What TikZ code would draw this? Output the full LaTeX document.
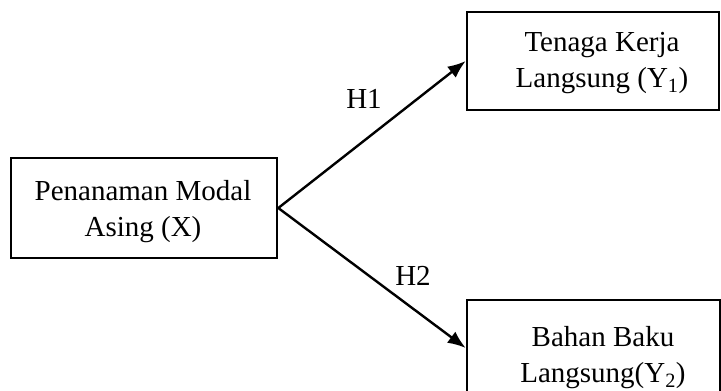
\documentclass[tikz,border=0pt]{standalone}
\usepackage{fontspec}
\setmainfont{Liberation Serif}
\usetikzlibrary{arrows.meta}
\begin{document}
\begin{tikzpicture}[x=1pt,y=-1pt,
  box/.style={draw=black,line width=2.6pt,inner sep=0pt},
  txt/.style={align=center,inner sep=0pt,font=\fontsize{29}{36}\selectfont},
  lbl/.style={inner sep=0pt,font=\fontsize{29}{36}\selectfont},
  conn/.style={line width=2.4pt,-{Latex[length=18pt,width=14pt]}}]
\useasboundingbox (0,0) rectangle (721,391);
\clip (0,0) rectangle (721,391);
\node[box,minimum width=266pt,minimum height=100pt] (X) at (144,208) {};
\node[box,minimum width=252pt,minimum height=98pt] (Y1) at (593,61) {};
\node[box,minimum width=253pt,minimum height=96pt] (Y2) at (593.5,348) {};
\node[txt] (tX) at (143,212) {Penanaman Modal\\Asing (X)};
\node[txt] (tY1) at (602,63) {Tenaga Kerja\\Langsung (Y\textsubscript{1})};
\node[txt] (tY2) at (603,358) {Bahan Baku\\Langsung(Y\textsubscript{2})};
\draw[conn] (X.east) -- (Y1.west);
\draw[conn] (X.east) -- (Y2.west);
\node[lbl] (h1) at (364,99) {H1};
\node[lbl] (h2) at (413,276) {H2};
\end{tikzpicture}
\end{document}
